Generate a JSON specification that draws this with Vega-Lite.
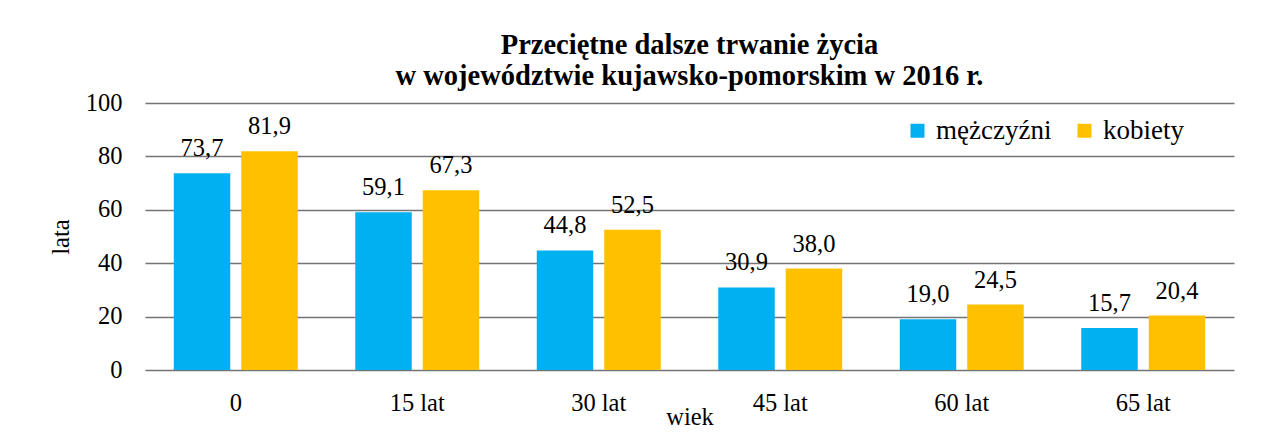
{
  "$schema": "https://vega.github.io/schema/vega-lite/v6.json",
  "width": 1089,
  "height": 267,
  "autosize": "none",
  "padding": {"left": 145, "top": 103, "right": 50, "bottom": 71},
  "background": "white",
  "config": {
    "font": "Liberation Serif",
    "text": {"font": "Liberation Serif"},
    "axis": {"labelFont": "Liberation Serif", "titleFont": "Liberation Serif"},
    "legend": {"labelFont": "Liberation Serif", "titleFont": "Liberation Serif"},
    "title": {"font": "Liberation Serif"},
    "view": {"stroke": null},
    "locale": {"number": {"decimal": ",", "thousands": " ", "grouping": [3], "currency": ["", " zł"]}}
  },
  "title": {
    "text": ["Przeciętne dalsze trwanie życia", "w województwie kujawsko-pomorskim w 2016 r."],
    "font": "Liberation Serif",
    "fontSize": 28.5,
    "fontWeight": "bold",
    "color": "black",
    "anchor": "middle",
    "offset": 0,
    "lineHeight": 31
  },
  "data": {
    "values": [
      {"wiek": "0", "plec": "mężczyźni", "lata": 73.7},
      {"wiek": "0", "plec": "kobiety", "lata": 81.9},
      {"wiek": "15 lat", "plec": "mężczyźni", "lata": 59.1},
      {"wiek": "15 lat", "plec": "kobiety", "lata": 67.3},
      {"wiek": "30 lat", "plec": "mężczyźni", "lata": 44.8},
      {"wiek": "30 lat", "plec": "kobiety", "lata": 52.5},
      {"wiek": "45 lat", "plec": "mężczyźni", "lata": 30.9},
      {"wiek": "45 lat", "plec": "kobiety", "lata": 38.0},
      {"wiek": "60 lat", "plec": "mężczyźni", "lata": 19.0},
      {"wiek": "60 lat", "plec": "kobiety", "lata": 24.5},
      {"wiek": "65 lat", "plec": "mężczyźni", "lata": 15.7},
      {"wiek": "65 lat", "plec": "kobiety", "lata": 20.4}
    ]
  },
  "encoding": {
    "x": {
      "field": "wiek", "type": "nominal", "sort": null,
      "scale": {"paddingInner": 0.317, "paddingOuter": 0.1585},
      "axis": {
        "title": "wiek", "labelAngle": 0, "labelFontSize": 24.5, "labelColor": "black",
        "labelFont": "Liberation Serif", "titleFont": "Liberation Serif",
        "labelPadding": 21, "ticks": false, "domain": false,
        "titleFontSize": 24.5, "titleFontWeight": "normal", "titleColor": "black", "titlePadding": -9
      }
    },
    "xOffset": {
      "field": "plec", "type": "nominal", "sort": ["mężczyźni", "kobiety"],
      "scale": {"paddingInner": 0.163, "paddingOuter": 0}
    },
    "y": {
      "field": "lata", "type": "quantitative",
      "scale": {"domain": [0, 100]},
      "axis": {
        "title": "lata", "values": [0, 20, 40, 60, 80, 100], "labelFontSize": 24.5, "labelColor": "black",
        "labelFont": "Liberation Serif", "titleFont": "Liberation Serif",
        "labelPadding": 23, "ticks": false, "domain": false,
        "grid": true, "gridColor": "#747474", "gridWidth": 1.3,
        "titleFontSize": 24.5, "titleFontWeight": "normal", "titleColor": "black", "titlePadding": 12
      }
    }
  },
  "layer": [
    {
      "mark": {"type": "bar"},
      "encoding": {
        "color": {
          "field": "plec", "type": "nominal",
          "scale": {"domain": ["mężczyźni", "kobiety"], "range": ["#00B0F0", "#FFC000"]},
          "legend": {
            "title": null, "orient": "none", "legendX": 759, "legendY": 14,
            "direction": "horizontal", "symbolType": "square", "symbolSize": 196,
            "symbolStrokeWidth": 0, "labelFontSize": 27, "labelColor": "black",
            "labelFont": "Liberation Serif",
            "columnPadding": 19, "labelOffset": 5
          }
        }
      }
    },
    {
      "mark": {"type": "text", "baseline": "bottom", "dy": -12, "fontSize": 24.5, "color": "black", "font": "Liberation Serif"},
      "encoding": {
        "text": {"field": "lata", "type": "quantitative", "format": ".1f"}
      }
    }
  ]
}
